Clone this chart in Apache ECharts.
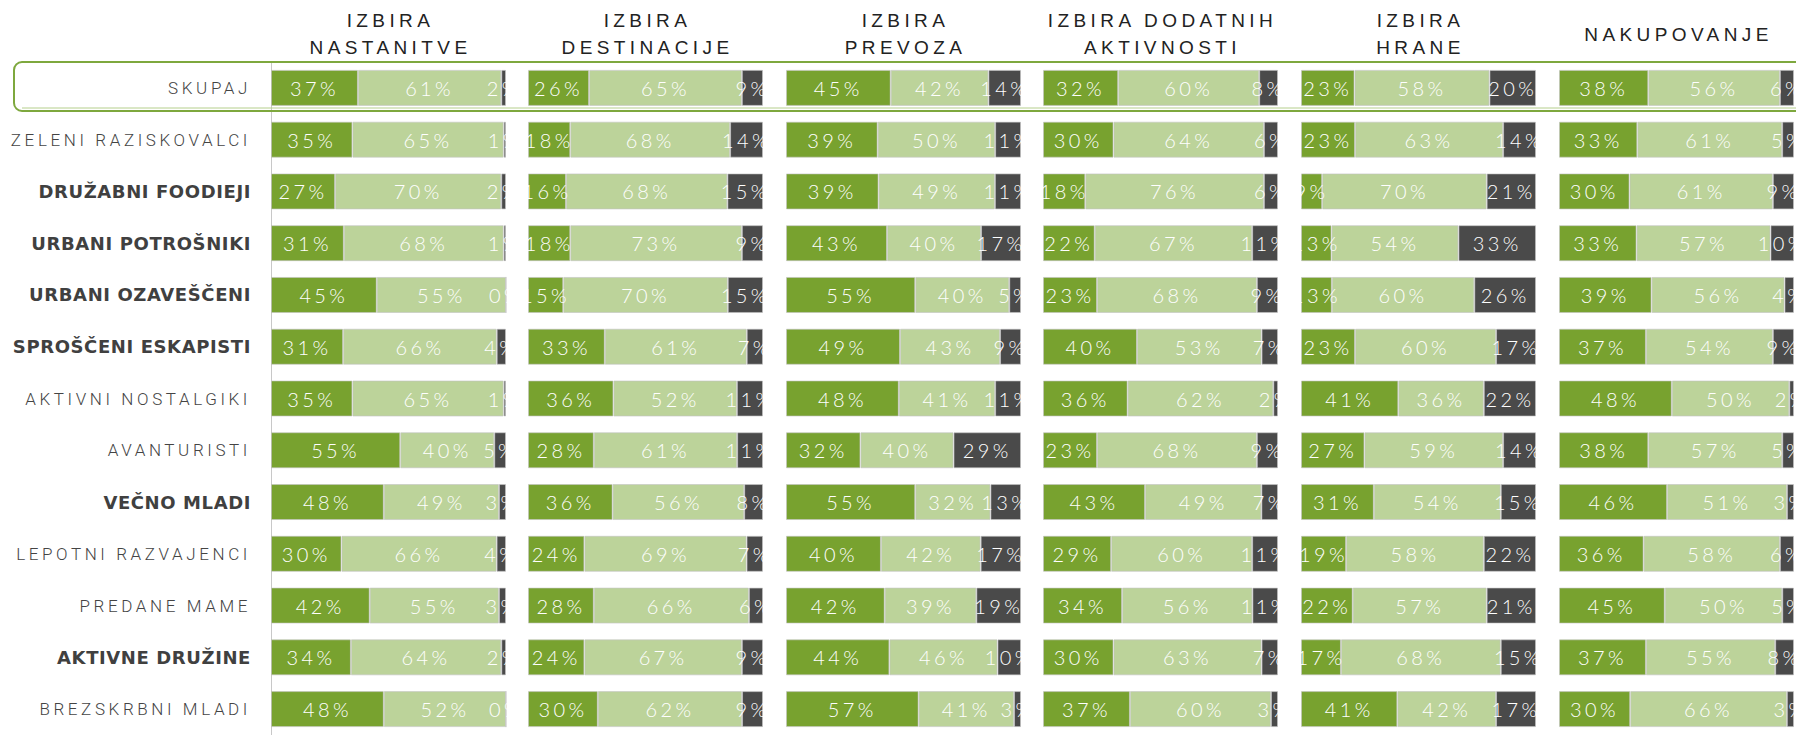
<!DOCTYPE html>
<html>
<head>
<meta charset="utf-8">
<script src="https://cdn.jsdelivr.net/npm/echarts@6/dist/echarts.min.js"></script>
<style>
  html, body { margin: 0; padding: 0; background: #fff; }
  #main { width: 1796px; height: 735px; }
  /* razmik med črkami kot v originalu */
  #main text[style*="Lato"], #main text[font-family*="Lato"] { letter-spacing: 3.4px; }
  #main text[style*="Liberation Sans"], #main text[font-family*="Liberation Sans"] { letter-spacing: 4.4px; }
  #main text[style*="Roboto"], #main text[font-family*="Roboto"] { letter-spacing: 3.6px; }
  #main text[style*="DejaVu"], #main text[font-family*="DejaVu"] { letter-spacing: 0.6px; }
</style>
</head>
<body>
<div id="main"></div>
<script>
// segmenti / rows
const categories = ['SKUPAJ', 'ZELENI RAZISKOVALCI', 'DRUŽABNI FOODIEJI', 'URBANI POTROŠNIKI',
    'URBANI OZAVEŠČENI', 'SPROŠČENI ESKAPISTI', 'AKTIVNI NOSTALGIKI', 'AVANTURISTI',
    'VEČNO MLADI', 'LEPOTNI RAZVAJENCI', 'PREDANE MAME', 'AKTIVNE DRUŽINE', 'BREZSKRBNI MLADI'];
const boldRows = ['DRUŽABNI FOODIEJI', 'URBANI POTROŠNIKI', 'URBANI OZAVEŠČENI',
    'SPROŠČENI ESKAPISTI', 'VEČNO MLADI', 'AKTIVNE DRUŽINE'];

const panelTitles = ['IZBIRA\nNASTANITVE', 'IZBIRA\nDESTINACIJE', 'IZBIRA\nPREVOZA',
    'IZBIRA DODATNIH\nAKTIVNOSTI', 'IZBIRA\nHRANE', 'NAKUPOVANJE'];

// [temno zelena, svetlo zelena, siva] per row
const nastanitve = [[37,61,2],[35,65,1],[27,70,2],[31,68,1],[45,55,0],[31,66,4],[35,65,1],
    [55,40,5],[48,49,3],[30,66,4],[42,55,3],[34,64,2],[48,52,0]];
const destinacije = [[26,65,9],[18,68,14],[16,68,15],[18,73,9],[15,70,15],[33,61,7],[36,52,11],
    [28,61,11],[36,56,8],[24,69,7],[28,66,6],[24,67,9],[30,62,9]];
const prevoz = [[45,42,14],[39,50,11],[39,49,11],[43,40,17],[55,40,5],[49,43,9],[48,41,11],
    [32,40,29],[55,32,13],[40,42,17],[42,39,19],[44,46,10],[57,41,3]];
const aktivnosti = [[32,60,8],[30,64,6],[18,76,6],[22,67,11],[23,68,9],[40,53,7],[36,62,2],
    [23,68,9],[43,49,7],[29,60,11],[34,56,11],[30,63,7],[37,60,3]];
const hrana = [[23,58,20],[23,63,14],[9,70,21],[13,54,33],[13,60,26],[23,60,17],[41,36,22],
    [27,59,14],[31,54,15],[19,58,22],[22,57,21],[17,68,15],[41,42,17]];
const nakupovanje = [[38,56,6],[33,61,5],[30,61,9],[33,57,10],[39,56,4],[37,54,9],[48,50,2],
    [38,57,5],[46,51,3],[36,58,6],[45,50,5],[37,55,8],[30,66,3]];

const panels = [nastanitve, destinacije, prevoz, aktivnosti, hrana, nakupovanje];
const colors = ['#78a22f', '#bcd39a', '#4a4a4a'];

const panelLeft = [271, 528, 786, 1043, 1301, 1559];
const panelWidth = 235;
const gridTop = 62;
const gridHeight = 676;

var myChart = echarts.init(document.getElementById('main'), null, { renderer: 'svg' });

let grids = [], xAxes = [], yAxes = [], series = [], graphics = [];

panels.forEach((rows, p) => {
    grids.push({ left: panelLeft[p], top: gridTop, width: panelWidth, height: gridHeight });
    xAxes.push({ type: 'value', gridIndex: p, min: 0, max: 100, show: false });
    yAxes.push({
        type: 'category', gridIndex: p, data: categories, inverse: true,
        axisLine: { show: p === 0, lineStyle: { color: '#c8c8c8', width: 1 } },
        axisTick: { show: false },
        splitLine: { show: false },
        axisLabel: p === 0 ? {
            show: true, margin: 20, align: 'right',
            formatter: v => boldRows.includes(v) ? '{b|' + v + '}' : '{n|' + v + '}',
            rich: {
                b: { fontFamily: 'DejaVu Sans', fontWeight: 'bold', fontSize: 18, color: '#404040' },
                n: { fontFamily: 'Roboto', fontWeight: 300, fontSize: 17, color: '#444444' }
            }
        } : { show: false }
    });
    for (let s = 0; s < 3; s++) {
        series.push({
            type: 'bar', stack: 'p' + p, xAxisIndex: p, yAxisIndex: p,
            barWidth: 36,
            itemStyle: { color: colors[s], borderColor: 'rgba(195,195,195,0.6)', borderWidth: 1 },
            label: {
                show: true, position: 'inside', color: '#ffffff',
                fontFamily: 'Lato', fontWeight: 300, fontSize: 20,
                formatter: d => d.data.raw + '%'
            },
            data: rows.map(r => {
                const sum = r[0] + r[1] + r[2];
                return { value: r[s] / sum * 100, raw: r[s] };
            })
        });
    }
    graphics.push({
        type: 'text', x: panelLeft[p] + panelWidth / 2 + 2, y: 34,
        style: {
            text: panelTitles[p], align: 'center', verticalAlign: 'middle',
            fontFamily: 'Liberation Sans', fontSize: 19, lineHeight: 27, fill: '#222222'
        }
    });
});

// okvir za SKUPAJ
graphics.push({
    type: 'rect', z: 100,
    shape: { x: 14, y: 62, width: 1800, height: 49, r: 8 },
    style: { fill: 'none', stroke: '#7ea83e', lineWidth: 2 }
});
graphics.push({
    type: 'line', z: 100,
    shape: { x1: 22, y1: 108, x2: 1796, y2: 108 },
    style: { stroke: '#b5cf8c', lineWidth: 1 }
});

let option = {
    animation: false,
    backgroundColor: '#ffffff',
    grid: grids,
    xAxis: xAxes,
    yAxis: yAxes,
    series: series,
    graphic: graphics
};

option && myChart.setOption(option);
</script>
</body>
</html>
